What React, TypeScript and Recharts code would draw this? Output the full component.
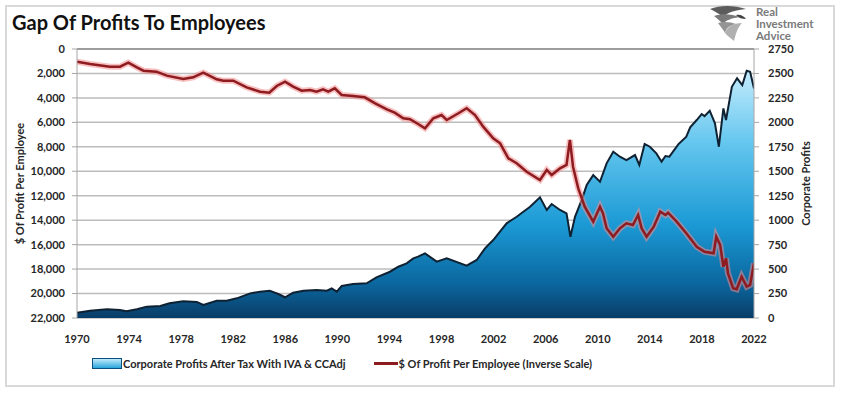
import {
  CartesianGrid,
  ComposedChart,
  Area,
  Line,
  XAxis,
  YAxis,
} from "recharts";

// Corporate profits after tax (billions)
const profitYears = [
  1970.0, 1971.0, 1972.3, 1973.3, 1973.8, 1974.6, 1975.35, 1976.4, 1977.1, 1978.16,
  1979.2, 1979.7, 1980.73, 1981.5, 1982.27, 1983.3, 1984.06, 1984.8, 1985.46, 1985.98,
  1986.6, 1987.4, 1988.4, 1989.2, 1989.56, 1989.95, 1990.33, 1991.2, 1992.25, 1993.0,
  1994.04, 1994.68, 1995.32, 1995.83, 1996.2, 1996.73, 1997.63, 1998.4, 1999.93, 2000.7,
  2001.34, 2001.97, 2003.0, 2003.77, 2004.8, 2005.56, 2006.08, 2006.46, 2007.1, 2007.6,
  2007.9, 2008.25, 2008.76, 2009.15, 2009.65, 2010.17, 2010.68, 2011.19, 2011.7, 2012.2,
  2012.86, 2013.19, 2013.6, 2014.0, 2014.5, 2014.9, 2015.2, 2015.5, 2016.2, 2016.8,
  2017.1, 2017.6, 2017.98, 2018.2, 2018.6, 2019.0, 2019.3, 2019.65, 2019.85, 2020.3,
  2020.7, 2021.1, 2021.44, 2021.7, 2022.0,
];
const profitValues = [
  54, 75, 89, 82, 68, 89, 116, 123, 150, 171,
  164, 133, 177, 177, 201, 252, 269, 279, 245, 212,
  259, 279, 286, 279, 303, 269, 327, 347, 354, 416,
  473, 524, 559, 610, 627, 661, 576, 610, 535, 593,
  712, 797, 968, 1035, 1137, 1234, 1104, 1165, 1104, 1070,
  831, 1035, 1206, 1359, 1461, 1393, 1581, 1700, 1649, 1615,
  1666, 1564, 1778, 1751, 1683, 1598, 1656, 1649, 1778, 1853,
  1949, 2024, 2085, 2064, 2119, 1990, 1751, 2143, 2024, 2364,
  2450, 2381, 2527, 2517, 2347,
];

// $ of profit per employee
const ppeYears = [
  1970.0, 1971.0, 1972.53, 1973.3, 1973.94, 1974.6, 1975.1, 1976.1, 1976.9, 1978.16,
  1978.93, 1979.7, 1980.73, 1981.24, 1982.0, 1983.03, 1984.06, 1984.77, 1985.34, 1985.98,
  1986.6, 1987.26, 1987.9, 1988.4, 1988.9, 1989.3, 1989.8, 1990.33, 1991.2, 1992.1,
  1992.9, 1993.8, 1994.4, 1995.06, 1995.58, 1996.2, 1996.73, 1997.37, 1998.0, 1998.4,
  1999.3, 1999.93, 2000.57, 2001.2, 2001.97, 2002.5, 2003.13, 2003.77, 2004.54, 2005.56,
  2006.08, 2006.46, 2007.1, 2007.6, 2007.86, 2008.1, 2008.5, 2009.0, 2009.65, 2010.17,
  2010.4, 2010.68, 2011.19, 2011.7, 2012.2, 2012.7, 2013.1, 2013.37, 2013.75, 2014.3,
  2014.8, 2015.2, 2015.4, 2016.06, 2016.8, 2017.6, 2018.2, 2018.9, 2019.1, 2019.4,
  2019.65, 2019.85, 2020.0, 2020.4, 2020.67, 2021.05, 2021.44, 2021.7, 2022.0,
];
const ppeValues = [
  1036, 1227, 1445, 1445, 1118, 1500, 1773, 1854, 2180, 2453,
  2317, 1936, 2481, 2590, 2590, 3135, 3489, 3571, 3026, 2671,
  3081, 3407, 3353, 3489, 3298, 3489, 3216, 3762, 3844, 3953,
  4443, 4934, 5207, 5667, 5749, 6134, 6485, 5667, 5397, 5806,
  5258, 4850, 5397, 6354, 7303, 7712, 8939, 9347, 10034, 10713,
  9895, 10304, 9756, 9486, 7442, 9625, 11392, 12897, 14123, 12897,
  13437, 14663, 15350, 14663, 14254, 14393, 13575, 14663, 15350, 14532,
  13306, 13575, 13388, 14123, 15072, 16168, 16577, 16708, 15350, 16029,
  17804, 17116, 18343, 19570, 19652, 18621, 19439, 19300, 17525,
];

const yearTicks = [1970, 1974, 1978, 1982, 1986, 1990, 1994, 1998, 2002, 2006, 2010, 2014, 2018, 2022];
const leftTicks = [0, 2000, 4000, 6000, 8000, 10000, 12000, 14000, 16000, 18000, 20000, 22000];
const rightTicks = [0, 250, 500, 750, 1000, 1250, 1500, 1750, 2000, 2250, 2500, 2750];

const TITLE = "Gap Of Profits To Employees";
const PROFIT_NAME = "Corporate Profits After Tax With IVA & CCAdj";
const PPE_NAME = "$ Of Profit Per Employee (Inverse Scale)";
const LOGO_LINES = ["Real", "Investment", "Advice"];

const profitData = profitYears.map((year, i) => ({ year, profit: profitValues[i] }));
const ppeData = ppeYears.map((year, i) => ({ year, ppe: ppeValues[i] }));

const FONT = "Lato, 'Open Sans', sans-serif";
const TICK_STYLE = { fontSize: 11, fontWeight: 700, fill: "#262626", fontFamily: FONT };

function Logo() {
  return (
    <div style={{ position: "absolute", left: 706, top: 3, display: "flex", alignItems: "flex-start" }}>
      <svg width={44} height={42} viewBox="0 0 44 42">
        <path d="M4 6 C14 2 28 2 40 6 C30 7 22 9 17 14 C12 10 8 8 4 6 Z" fill="#5c5c5c" />
        <path d="M8 13 C16 10 26 11 34 14 C26 15 20 17 17 21 C14 18 11 15 8 13 Z" fill="#7a7a7a" />
        <path d="M12 20 C18 18 25 19 30 21 C24 22 20 25 19 30 C17 26 14 23 12 20 Z" fill="#949494" />
        <path d="M19 30 C21 24 27 20 36 20 C32 24 30 30 28 38 C25 35 21 33 19 30 Z" fill="#b0b0b0" />
        <path d="M30 12 C34 11 38 13 40 16 C36 16 33 15 30 12 Z" fill="#444" />
      </svg>
      <div
        style={{
          fontFamily: FONT,
          fontWeight: 700,
          fontSize: 11.5,
          lineHeight: "12px",
          color: "#7a7a7a",
          marginLeft: 6,
          marginTop: 3,
        }}
      >
        {LOGO_LINES.map((t) => (
          <div key={t} style={{ height: 12 }}>
            {t}
          </div>
        ))}
      </div>
    </div>
  );
}

function LegendRow() {
  return (
    <div
      style={{
        position: "absolute",
        left: 92,
        top: 357,
        display: "flex",
        alignItems: "center",
        fontFamily: FONT,
        fontWeight: 700,
        fontSize: 11,
        color: "#262626",
        whiteSpace: "nowrap",
      }}
    >
      <span
        style={{
          display: "inline-block",
          width: 28,
          height: 9,
          border: "1px solid #0a4f80",
          background: "linear-gradient(#bfeafc, #2aa6dc)",
          marginRight: 1,
        }}
      />
      <span>{PROFIT_NAME}</span>
      <span
        style={{
          display: "inline-block",
          width: 24,
          height: 3,
          background: "#8e1b1f",
          marginLeft: 28,
          marginRight: 1,
        }}
      />
      <span>{PPE_NAME}</span>
    </div>
  );
}

export default function App() {
  return (
    <div
      style={{
        position: "absolute",
        left: 0,
        top: 0,
        width: 848,
        height: 393,
        background: "#fff",
        overflow: "hidden",
      }}
    >
      <div
        style={{
          position: "absolute",
          left: 5,
          top: 5,
          width: 826,
          height: 378,
          border: "2px solid #d9d9d9",
        }}
      />
      <div
        style={{
          position: "absolute",
          left: 12,
          top: 10,
          fontFamily: FONT,
          fontWeight: 700,
          fontSize: 20,
          lineHeight: "24px",
          color: "#111",
        }}
      >
        {TITLE}
      </div>
      <Logo />
      <div style={{ position: "absolute", left: 0, top: 0 }}>
        <ComposedChart width={848} height={393} margin={{ top: 48, right: 34, bottom: 45, left: 17 }}>
          <defs>
            <linearGradient id="profitFill" x1="0" y1="0" x2="0" y2="1">
              <stop offset="0%" stopColor="#c4ecfc" />
              <stop offset="30%" stopColor="#62c5ee" />
              <stop offset="62%" stopColor="#1c9ad5" />
              <stop offset="86%" stopColor="#0b679f" />
              <stop offset="100%" stopColor="#0a3d68" />
            </linearGradient>
          </defs>
          <CartesianGrid yAxisId="left" vertical={false} stroke="#bdbdbd" strokeWidth={1.5} />
          <XAxis
            xAxisId="bottom"
            dataKey="year"
            type="number"
            domain={[1970, 2022]}
            ticks={yearTicks}
            allowDataOverflow
            height={30}
            axisLine={false}
            tickLine={false}
            tickMargin={11}
            tick={TICK_STYLE}
          />
          <XAxis
            xAxisId="top"
            orientation="top"
            type="number"
            domain={[1970, 2022]}
            ticks={yearTicks}
            allowDataOverflow
            height={1}
            tick={false}
            tickSize={4}
            axisLine={{ stroke: "#8c8c8c", strokeWidth: 1.5 }}
            tickLine={{ stroke: "#8c8c8c" }}
          />
          <YAxis
            yAxisId="left"
            orientation="left"
            reversed
            domain={[0, 22000]}
            ticks={leftTicks}
            width={60}
            tickSize={5}
            tickMargin={7}
            axisLine={{ stroke: "#a6a6a6" }}
            tickLine={{ stroke: "#a6a6a6" }}
            tick={TICK_STYLE}
            tickFormatter={(v: number) => v.toLocaleString("en-US")}
            label={{
              value: "$ Of Profit Per Employee",
              angle: -90,
              position: "insideLeft",
              offset: 3,
              style: { textAnchor: "middle", fontSize: 11, fontWeight: 700, fill: "#262626", fontFamily: FONT },
            }}
          />
          <YAxis
            yAxisId="right"
            orientation="right"
            domain={[0, 2750]}
            ticks={rightTicks}
            width={60}
            tickSize={5}
            tickMargin={9}
            axisLine={{ stroke: "#a6a6a6" }}
            tickLine={{ stroke: "#a6a6a6" }}
            tick={TICK_STYLE}
            label={{
              value: "Corporate Profits",
              angle: -90,
              position: "insideRight",
              offset: 8,
              style: { textAnchor: "middle", fontSize: 11, fontWeight: 700, fill: "#262626", fontFamily: FONT },
            }}
          />
          <Area
            data={profitData}
            xAxisId="bottom"
            yAxisId="right"
            dataKey="profit"
            name={PROFIT_NAME}
            type="linear"
            fill="url(#profitFill)"
            fillOpacity={1}
            stroke="#0f2233"
            strokeWidth={2}
            isAnimationActive={false}
          />
          <Line
            data={ppeData}
            xAxisId="bottom"
            yAxisId="left"
            dataKey="ppe"
            type="linear"
            stroke="#f08a8a"
            strokeOpacity={0.55}
            strokeWidth={6}
            dot={false}
            legendType="none"
            isAnimationActive={false}
          />
          <Line
            data={ppeData}
            xAxisId="bottom"
            yAxisId="left"
            dataKey="ppe"
            name={PPE_NAME}
            type="linear"
            stroke="#8e1b1f"
            strokeWidth={2.5}
            dot={false}
            isAnimationActive={false}
          />
        </ComposedChart>
      </div>
      <LegendRow />
    </div>
  );
}
